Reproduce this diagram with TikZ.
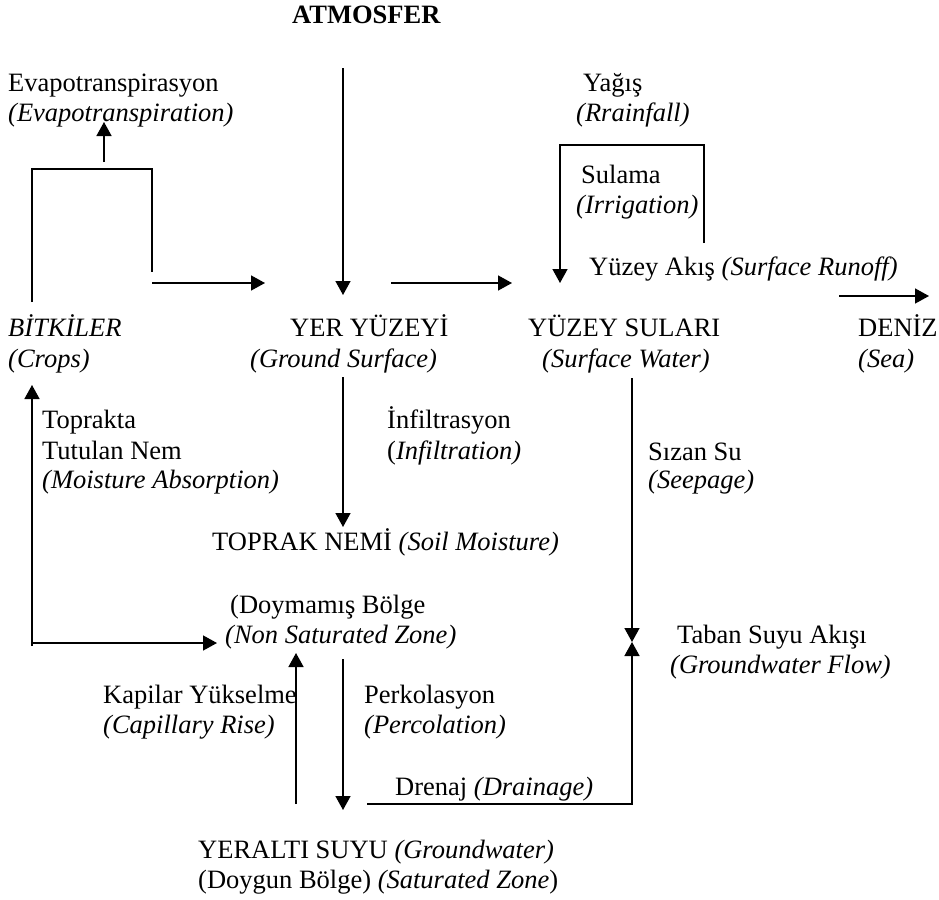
\documentclass[tikz,border=0pt]{standalone}
\usepackage{fontspec}
\setmainfont{Liberation Serif}
\usetikzlibrary{arrows.meta}
\tikzset{
  lbl/.style={anchor=base west,inner sep=0pt,font=\fontsize{26.5}{30.5}\selectfont},
  flow/.style={line width=1.5pt,-{Triangle[width=15pt,length=14pt]}},
  plain/.style={line width=1.5pt}
}
\begin{document}
\begin{tikzpicture}[x=1pt,y=-1pt]
\useasboundingbox (0,0) rectangle (939,899);
% texts
\node[lbl,font=\fontsize{26.5}{30.5}\selectfont\bfseries] (atm) at (292,24) {ATMOSFER};
\node[lbl] (evap1) at (8,92) {Evapotranspirasyon};
\node[lbl] (evap2) at (8,121) {\textit{(Evapotranspiration)}};
\node[lbl] (rain1) at (583,92) {Yağış};
\node[lbl] (rain2) at (576,121) {\textit{(Rrainfall)}};
\node[lbl] (irr1) at (581,183) {Sulama};
\node[lbl] (irr2) at (576,213) {\textit{(Irrigation)}};
\node[lbl] (runoff) at (589,275) {Yüzey Akış \textit{(Surface Runoff)}};
\node[lbl] (crops1) at (8,336) {\textit{BİTKİLER}};
\node[lbl] (crops2) at (8,367) {\textit{(Crops)}};
\node[lbl] (gs1) at (290,336) {YER YÜZEYİ};
\node[lbl] (gs2) at (250,367) {\textit{(Ground Surface)}};
\node[lbl] (sw1) at (528,336) {YÜZEY SULARI};
\node[lbl] (sw2) at (542,367) {\textit{(Surface Water)}};
\node[lbl] (sea1) at (858,336) {DENİZ};
\node[lbl] (sea2) at (858,367) {\textit{(Sea)}};
\node[lbl] (ma1) at (42,428) {Toprakta};
\node[lbl] (ma2) at (42,459) {Tutulan Nem};
\node[lbl] (ma3) at (42,488) {\textit{(Moisture Absorption)}};
\node[lbl] (inf1) at (387,428) {İnfiltrasyon};
\node[lbl] (inf2) at (387,459) {(\textit{Infiltration)}};
\node[lbl] (see1) at (648,460) {Sızan Su};
\node[lbl] (see2) at (648,488) {\textit{(Seepage)}};
\node[lbl] (soil) at (212,550) {TOPRAK NEMİ \textit{(Soil Moisture)}};
\node[lbl] (nsz1) at (230,613) {(Doymamış Bölge};
\node[lbl] (nsz2) at (225,643) {\textit{(Non Saturated Zone)}};
\node[lbl] (gwf1) at (677,643) {Taban Suyu Akışı};
\node[lbl] (gwf2) at (670,673) {\textit{(Groundwater Flow)}};
\node[lbl] (cap1) at (103,703) {Kapilar Yükselme};
\node[lbl] (cap2) at (103,733) {\textit{(Capillary Rise)}};
\node[lbl] (per1) at (364,703) {Perkolasyon};
\node[lbl] (per2) at (364,733) {\textit{(Percolation)}};
\node[lbl] (dr) at (395,795) {Drenaj \textit{(Drainage)}};
\node[lbl] (gw1) at (198,858) {YERALTI SUYU \textit{(Groundwater)}};
\node[lbl] (gw2) at (198,888) {(Doygun Bölge) \textit{(Saturated Zone})};
% connector end points
\coordinate (evs) at (104,162);
\coordinate (eve) at (104,122);
\coordinate (cl1) at (32,302);
\coordinate (cl2) at (32,169);
\coordinate (cl3) at (152,169);
\coordinate (cl4) at (152,272);
\coordinate (cgs) at (152,283);
\coordinate (cge) at (265,283);
\coordinate (ats) at (343,68);
\coordinate (ate) at (343,295);
\coordinate (gss) at (391,283);
\coordinate (gse) at (512,283);
\coordinate (r1) at (704,243);
\coordinate (r2) at (704,145);
\coordinate (r3) at (560,145);
\coordinate (r4) at (560,283);
\coordinate (ros) at (839,296);
\coordinate (roe) at (929,296);
\coordinate (ins) at (343,377);
\coordinate (ine) at (343,527);
\coordinate (ses) at (632,378);
\coordinate (see) at (632,642);
\coordinate (drs) at (367,804);
\coordinate (drc) at (632,804);
\coordinate (mas) at (32,646);
\coordinate (mac) at (32,643);
\coordinate (mae) at (32,385);
\coordinate (mne) at (217,643);
\coordinate (cps) at (296,804);
\coordinate (cpe) at (296,653);
\coordinate (pcs) at (343,659);
\coordinate (pce) at (343,810);
% connectors
\draw[flow] (evs) -- (eve);
\draw[plain] (cl1) -- (cl2) -- (cl3) -- (cl4);
\draw[flow] (cgs) -- (cge);
\draw[flow] (ats) -- (ate);
\draw[flow] (gss) -- (gse);
\draw[flow] (r1) -- (r2) -- (r3) -- (r4);
\draw[flow] (ros) -- (roe);
\draw[flow] (ins) -- (ine);
\draw[flow] (ses) -- (see);
\draw[flow] (drs) -- (drc) -- (see);
\draw[flow] (mas) -- (mae);
\draw[flow] (mac) -- (mne);
\draw[flow] (cps) -- (cpe);
\draw[flow] (pcs) -- (pce);
\end{tikzpicture}
\end{document}
